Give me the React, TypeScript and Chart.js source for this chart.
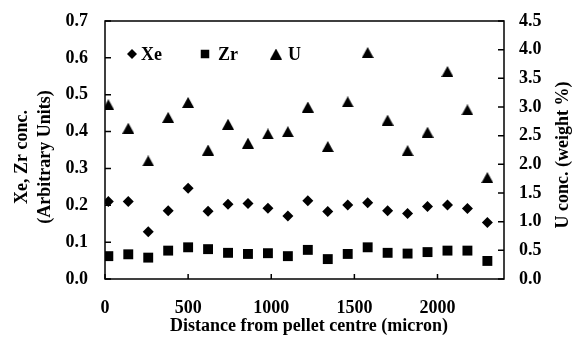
import React, { useEffect, useRef } from "react";
import { Chart, registerables } from "chart.js";

Chart.register(...registerables);

// ---- data ----
const distance = [20, 140, 260, 380, 500, 620, 740, 860, 980, 1100, 1220, 1340, 1460, 1580, 1700, 1820, 1940, 2060, 2180, 2300];
const xeConc = [0.210, 0.210, 0.128, 0.185, 0.246, 0.184, 0.203, 0.205, 0.192, 0.171, 0.212, 0.183, 0.201, 0.207, 0.185, 0.178, 0.197, 0.201, 0.191, 0.153];
const zrConc = [0.062, 0.067, 0.058, 0.077, 0.086, 0.081, 0.071, 0.068, 0.070, 0.062, 0.079, 0.054, 0.068, 0.086, 0.071, 0.069, 0.073, 0.077, 0.077, 0.049];
const uConc = [3.04, 2.63, 2.06, 2.82, 3.08, 2.25, 2.70, 2.37, 2.53, 2.57, 3.00, 2.31, 3.09, 3.95, 2.77, 2.24, 2.56, 3.62, 2.95, 1.77];
const xTicks = [0, 500, 1000, 1500, 2000];
const leftTicks = [0, 0.1, 0.2, 0.3, 0.4, 0.5, 0.6, 0.7];
const rightTicks = [0, 0.5, 1, 1.5, 2, 2.5, 3, 3.5, 4, 4.5];
const seriesLabels = ["Xe", "Zr", "U"];
const xTitle = "Distance from pellet centre (micron)";
const leftTitle = ["Xe, Zr conc.", "(Arbitrary Units)"];
const rightTitle = "U conc. (weight %)";

const FONT_FAMILY = "'Liberation Serif', 'Times New Roman', serif";
const tickFont = { family: FONT_FAMILY, size: 18, weight: "bold" as const };

function makeTriangle(w: number, h: number): HTMLCanvasElement {
  const c = document.createElement("canvas");
  c.width = w;
  c.height = h;
  const g = c.getContext("2d")!;
  g.fillStyle = "#000";
  g.beginPath();
  g.moveTo(w / 2, 0);
  g.lineTo(w, h);
  g.lineTo(0, h);
  g.closePath();
  g.fill();
  return c;
}

function drawMarker(ctx: CanvasRenderingContext2D, kind: string, x: number, y: number, tri: HTMLCanvasElement) {
  ctx.beginPath();
  if (kind === "diamond") {
    const r = 5;
    ctx.moveTo(x, y - r);
    ctx.lineTo(x + r, y);
    ctx.lineTo(x, y + r);
    ctx.lineTo(x - r, y);
    ctx.closePath();
    ctx.fill();
  } else if (kind === "square") {
    const s = 8.5;
    ctx.fillRect(x - s / 2, y - s / 2, s, s);
  } else {
    ctx.drawImage(tri, x - tri.width / 2, y - tri.height / 2);
  }
}

const noPad = (s: any) => {
  s.paddingTop = 0;
  s.paddingBottom = 0;
  s.paddingLeft = 0;
  s.paddingRight = 0;
};

export default function App() {
  const ref = useRef<HTMLCanvasElement | null>(null);

  useEffect(() => {
    document.body.style.margin = "0";
    const canvas = ref.current!;
    const tri = makeTriangle(12, 11);

    const overlay = {
      id: "overlay",
      afterDraw(chart: any) {
        const { ctx, chartArea: a, scales } = chart;
        ctx.save();
        ctx.strokeStyle = "#000";
        ctx.lineWidth = 1.5;
        ctx.strokeRect(a.left, a.top, a.right - a.left, a.bottom - a.top);
        ctx.beginPath();
        xTicks.forEach((v) => {
          const px = scales.x.getPixelForValue(v);
          ctx.moveTo(px, a.bottom);
          ctx.lineTo(px, a.bottom - 5);
        });
        leftTicks.forEach((v) => {
          const py = scales.y.getPixelForValue(v);
          ctx.moveTo(a.left, py);
          ctx.lineTo(a.left + 6, py);
        });
        rightTicks.forEach((v) => {
          const py = scales.y2.getPixelForValue(v);
          ctx.moveTo(a.right, py);
          ctx.lineTo(a.right - 6, py);
        });
        ctx.stroke();

        ctx.fillStyle = "#000";
        ctx.font = `bold 18px ${FONT_FAMILY}`;
        ctx.textBaseline = "alphabetic";
        ctx.textAlign = "center";
        ctx.fillText(xTitle, 309, 331);

        ctx.save();
        ctx.translate(27, 157);
        ctx.rotate(-Math.PI / 2);
        ctx.fillText(leftTitle[0], 0, 0);
        ctx.fillText(leftTitle[1], 0, 22.5);
        ctx.restore();

        ctx.save();
        ctx.translate(568, 155);
        ctx.rotate(-Math.PI / 2);
        ctx.fillText(rightTitle, 0, 0);
        ctx.restore();

        // legend
        const kinds = ["diamond", "square", "triangle"];
        const markerX = [132, 205, 276];
        const textX = [141, 218, 288];
        const ly = 54;
        ctx.textAlign = "left";
        seriesLabels.forEach((lab, i) => {
          drawMarker(ctx, kinds[i], markerX[i], ly, tri);
          ctx.fillText(lab, textX[i], ly + 5.5);
        });
        ctx.restore();
      },
    };

    const chart = new Chart(canvas, {
      type: "scatter",
      data: {
        datasets: [
          {
            label: seriesLabels[0],
            data: distance.map((d, i) => ({ x: d, y: xeConc[i] })),
            yAxisID: "y",
            pointStyle: "rectRot",
            pointRadius: 5.5,
            backgroundColor: "#000",
            borderWidth: 0,
          },
          {
            label: seriesLabels[1],
            data: distance.map((d, i) => ({ x: d, y: zrConc[i] })),
            yAxisID: "y",
            pointStyle: "rect",
            pointRadius: 7,
            backgroundColor: "#000",
            borderWidth: 0,
          },
          {
            label: seriesLabels[2],
            data: distance.map((d, i) => ({ x: d, y: uConc[i] })),
            yAxisID: "y2",
            pointStyle: tri as any,
            pointRadius: 6,
            backgroundColor: "#000",
            borderWidth: 0,
          },
        ],
      },
      options: {
        animation: false,
        responsive: false,
        events: [],
        layout: { padding: { top: 21, left: 0, right: 0, bottom: 0 } },
        plugins: { legend: { display: false }, tooltip: { enabled: false } },
        scales: {
          x: {
            type: "linear",
            min: 0,
            max: 2400,
            afterBuildTicks: (s: any) => {
              s.ticks = xTicks.map((v) => ({ value: v }));
            },
            afterFit: (s: any) => {
              s.height = 70;
              noPad(s);
            },
            grid: { display: false, drawTicks: false, tickLength: 0 },
            border: { display: false },
            ticks: { font: tickFont, color: "#000", padding: 19, maxRotation: 0, callback: (v: any) => String(v) },
          },
          y: {
            type: "linear",
            position: "left",
            min: 0,
            max: 0.7,
            afterBuildTicks: (s: any) => {
              s.ticks = leftTicks.map((v) => ({ value: v }));
            },
            afterFit: (s: any) => {
              s.width = 105;
              noPad(s);
            },
            grid: { display: false, drawTicks: false, tickLength: 0 },
            border: { display: false },
            ticks: { font: tickFont, color: "#000", padding: 17, callback: (v: any) => Number(v).toFixed(1) },
          },
          y2: {
            type: "linear",
            position: "right",
            min: 0,
            max: 4.5,
            afterBuildTicks: (s: any) => {
              s.ticks = rightTicks.map((v) => ({ value: v }));
            },
            afterFit: (s: any) => {
              s.width = 70;
              noPad(s);
            },
            grid: { display: false, drawTicks: false, tickLength: 0 },
            border: { display: false },
            ticks: { font: tickFont, color: "#000", padding: 15, callback: (v: any) => Number(v).toFixed(1) },
          },
        },
      },
      plugins: [overlay],
    } as any);

    return () => chart.destroy();
  }, []);

  return (
    <div style={{ width: 574, height: 349 }}>
      <canvas ref={ref} width={574} height={349} />
    </div>
  );
}
